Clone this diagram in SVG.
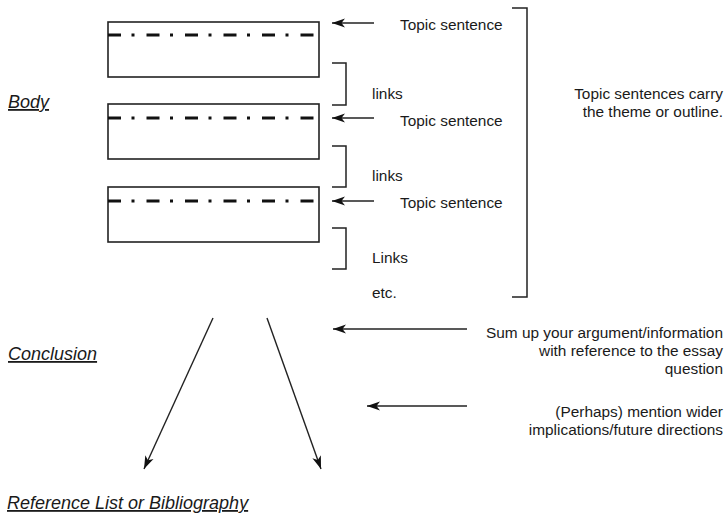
<svg xmlns="http://www.w3.org/2000/svg" width="728" height="518" viewBox="0 0 728 518">
  <style>
    .t { font-family: "Liberation Sans", Arial, sans-serif; font-size: 15.4px; fill: #1a1a1a; }
    .h { font-family: "Liberation Sans", Arial, sans-serif; font-size: 18px; font-style: italic; fill: #1a1a1a; text-decoration: underline; }
    .r { text-anchor: end; }
    .box { fill: #fff; stroke: #222; stroke-width: 1.6; }
    .dash { stroke: #111; stroke-width: 3.2; stroke-dasharray: 13 10.5 3 12; fill: none; }
    .br { fill: none; stroke: #222; stroke-width: 1.5; }
    .ar { fill: none; stroke: #222; stroke-width: 1.4; marker-end: url(#head); }
  </style>
  <defs>
    <marker id="head" viewBox="0 -5 13 10" refX="13" refY="0" markerWidth="13" markerHeight="10" markerUnits="userSpaceOnUse" orient="auto">
      <path d="M13,0 L0,-4.5 L3.5,0 L0,4.5 Z" fill="#111"/>
    </marker>
  </defs>
  <rect width="728" height="518" fill="#fff"/>

  <g id="body-label"><text class="h" x="8" y="108">Body</text></g>

  <g id="para1">
    <rect class="box" x="108" y="22" width="211" height="55"/>
    <line class="dash" x1="108" y1="35" x2="316" y2="35"/>
  </g>
  <g id="para2">
    <rect class="box" x="108" y="104" width="211" height="55"/>
    <line class="dash" x1="108" y1="118" x2="316" y2="118"/>
  </g>
  <g id="para3">
    <rect class="box" x="108" y="187" width="211" height="55"/>
    <line class="dash" x1="108" y1="201" x2="316" y2="201"/>
  </g>

  <g id="link1"><path class="br" d="M332,63 H346 V105 H332"/><text class="t" x="372" y="99">links</text></g>
  <g id="link2"><path class="br" d="M332,146 H346 V187 H332"/><text class="t" x="372" y="181">links</text></g>
  <g id="link3"><path class="br" d="M332,228 H346 V269 H332"/><text class="t" x="372" y="263">Links</text></g>
  <g id="etc"><text class="t" x="372" y="298">etc.</text></g>

  <g id="topic1"><text class="t" x="400" y="30">Topic sentence</text></g>
  <g id="topic2"><text class="t" x="400" y="126">Topic sentence</text></g>
  <g id="topic3"><text class="t" x="400" y="208">Topic sentence</text></g>

  <g id="body-bracket"><path class="br" d="M512,8 H527 V297 H512"/></g>
  <g id="body-note">
    <text class="t r" x="723" y="99">Topic sentences carry</text>
    <text class="t r" x="723" y="117">the theme or outline.</text>
  </g>

  <g id="conclusion-label"><text class="h" x="8" y="360">Conclusion</text></g>
  <g id="conclusion-note1">
    <text class="t r" x="723" y="338">Sum up your argument/information</text>
    <text class="t r" x="723" y="356">with reference to the essay</text>
    <text class="t r" x="723" y="374">question</text>
  </g>
  <g id="conclusion-note2">
    <text class="t r" x="723" y="417">(Perhaps) mention wider</text>
    <text class="t r" x="723" y="435">implications/future directions</text>
  </g>

  <g id="reference-label"><text class="h" x="7" y="509">Reference List or Bibliography</text></g>

  <g id="connectors">
    <line class="ar" x1="374" y1="23" x2="332" y2="23"/>
    <line class="ar" x1="374" y1="118" x2="332" y2="118"/>
    <line class="ar" x1="374" y1="201" x2="332" y2="201"/>
    <line class="ar" x1="467" y1="329" x2="333" y2="329"/>
    <line class="ar" x1="467" y1="406" x2="367" y2="406"/>
    <line class="ar" x1="213" y1="318" x2="144" y2="469"/>
    <line class="ar" x1="267" y1="318" x2="321" y2="469"/>
  </g>
</svg>
